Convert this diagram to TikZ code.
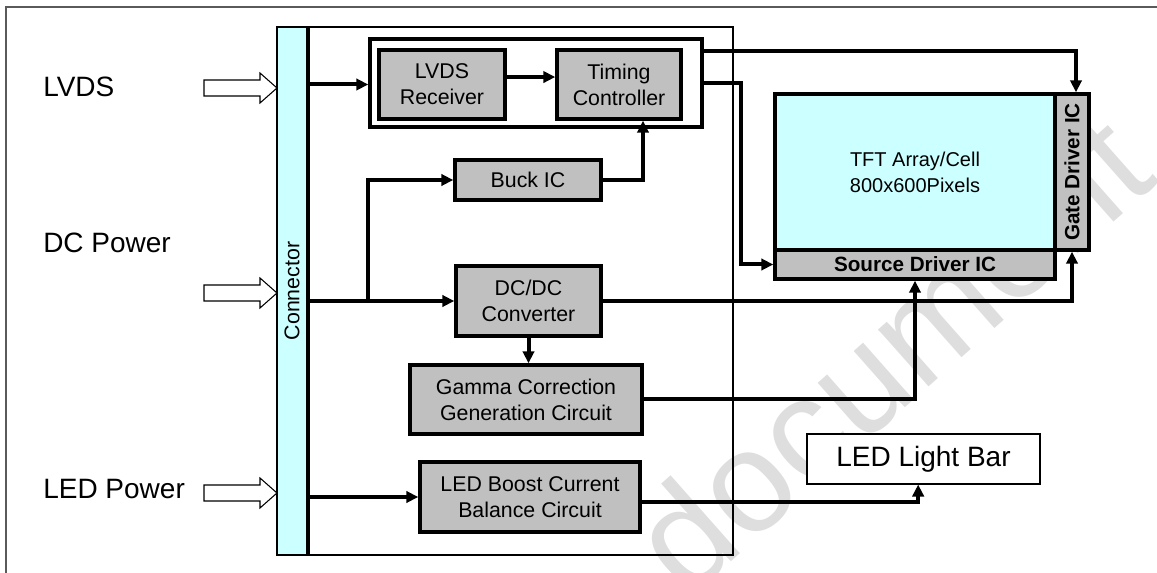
\documentclass[tikz,border=0pt]{standalone}
\usepackage{fontspec}
\setmainfont{Liberation Sans}
\usetikzlibrary{arrows.meta,calc}
\definecolor{cellcyan}{HTML}{CCFFFF}
\definecolor{icgray}{HTML}{C0C0C0}
\definecolor{framegray}{HTML}{5A5A5A}
\newcommand\mkblockarrow[1]{%
  \draw[blockarr] (#1) ++(-73,-8) -- ++(56,0) -- ++(0,-7) -- (#1) -- ++(-17,15) -- ++(0,-7) -- ++(-56,0) -- cycle;}
\begin{document}
\begin{tikzpicture}[x=0.75pt,y=-0.75pt,
  box/.style={draw, line width=2.6pt, fill=icgray, inner sep=0pt, align=center,
    font=\fontsize{16}{19.5}\selectfont},
  arr/.style={line width=3pt, -{Triangle[length=9pt,width=8.5pt]}},
  blockarr/.style={draw, line width=0.8pt, fill=white},
  biglabel/.style={anchor=west, inner sep=0pt, font=\fontsize{21}{25}\selectfont}]
\useasboundingbox (0,0) rectangle (1157,573);
% watermark
\node[rotate=41.5, text=black!13, inner sep=0pt, font=\fontsize{108}{108}\selectfont] (wm) at (890,352) {document};
% outer frame
\draw[framegray, line width=1.1pt] (6,573) -- (6,7) -- (1157,7);
% board
\node[draw, line width=0.8pt, minimum width=342pt, minimum height=396pt, inner sep=0pt] (board) at (505,291) {};
% connector
\node[draw, line width=1.2pt, fill=cellcyan, minimum width=22.5pt, minimum height=396pt, inner sep=0pt] (conn) at (292,291) {};
\draw[line width=2.6pt] (conn.north east) -- (conn.south east);
\node[rotate=90, font=\fontsize{16}{19.5}\selectfont] (conntext) at (conn.center) {Connector};
% left labels
\node[biglabel] (lvdslab) at (43,87) {LVDS};
\node[biglabel] (dclab) at (43,243) {DC Power};
\node[biglabel] (ledlab) at (43,489) {LED Power};
\coordinate (tipA) at (277,88);
\coordinate (tipB) at (277,293);
\coordinate (tipC) at (277,493);
\mkblockarrow{tipA}
\mkblockarrow{tipB}
\mkblockarrow{tipC}
% LVDS group
\node[draw, line width=2.6pt, fill=white, minimum width=249pt, minimum height=66pt, inner sep=0pt] (grp) at (536,83) {};
\node[box, minimum width=94.5pt, minimum height=51.75pt] (rx) at (442,84.5) {LVDS\\Receiver};
\node[box, minimum width=93pt, minimum height=51.75pt] (tc) at (619,84.5) {Timing\\Controller};
\node[box, minimum width=109.5pt, minimum height=30pt] (buck) at (528,180) {Buck IC};
\node[box, minimum width=108.75pt, minimum height=52.5pt] (dcdc) at (528.5,301) {DC/DC\\Converter};
\node[box, minimum width=174pt, minimum height=51.75pt] (gamma) at (526,399.5) {Gamma Correction\\Generation Circuit};
\node[box, minimum width=165pt, minimum height=52.5pt] (boost) at (530,497) {LED Boost Current\\Balance Circuit};
\node[draw, line width=0.8pt, fill=white, minimum width=174.75pt, minimum height=37.5pt, inner sep=0pt,
  font=\fontsize{21}{25}\selectfont] (bar) at (923.5,459) {LED Light Bar};
% panel
\node[draw, line width=2.6pt, fill=cellcyan, minimum width=210pt, minimum height=117pt, inner sep=0pt, align=center,
  font=\fontsize{15}{19.5}\selectfont] (tft) at (915,172) {TFT Array/Cell\\800x600Pixels};
\node[box, minimum width=25.5pt, minimum height=117pt] (gate) at (1072,172) {};
\node[rotate=90, font=\bfseries\fontsize{15.5}{19}\selectfont, inner sep=0pt] (gatetext) at (gate.center) {Gate Driver IC};
\node[box, minimum width=210pt, minimum height=21.75pt, font=\bfseries\fontsize{15.5}{19}\selectfont] (src) at (915,264.5) {Source Driver IC};
% connectors
\coordinate (j) at (368,301);
\draw[arr] (conn.east |- rx.center) -- (grp.west |- rx.center);
\draw[arr] ([yshift=5.6pt]rx.east) -- ([yshift=5.6pt]tc.west);
\draw[arr] (conn.east |- dcdc.west) -- (dcdc.west);
\draw[arr] (j) |- (buck.west);
\draw[arr] (buck.east) -| ([xshift=18pt]tc.south);
\draw[arr] (dcdc.south) -- (dcdc.south |- gamma.north);
\draw[arr] (conn.east |- boost.west) -- (boost.west);
\draw[arr] ([yshift=24pt]grp.east) -| ([xshift=3pt]gate.north);
\draw[arr] (grp.east) -- ++(27.75pt,0) |- (src.west);
\draw[arr] (dcdc.east) -| (gate.south);
\draw[arr] (gamma.east) -| (src.south);
\draw[arr] ([yshift=-3.75pt]boost.east) -| ([xshift=-4pt]bar.south);
\end{tikzpicture}
\end{document}
